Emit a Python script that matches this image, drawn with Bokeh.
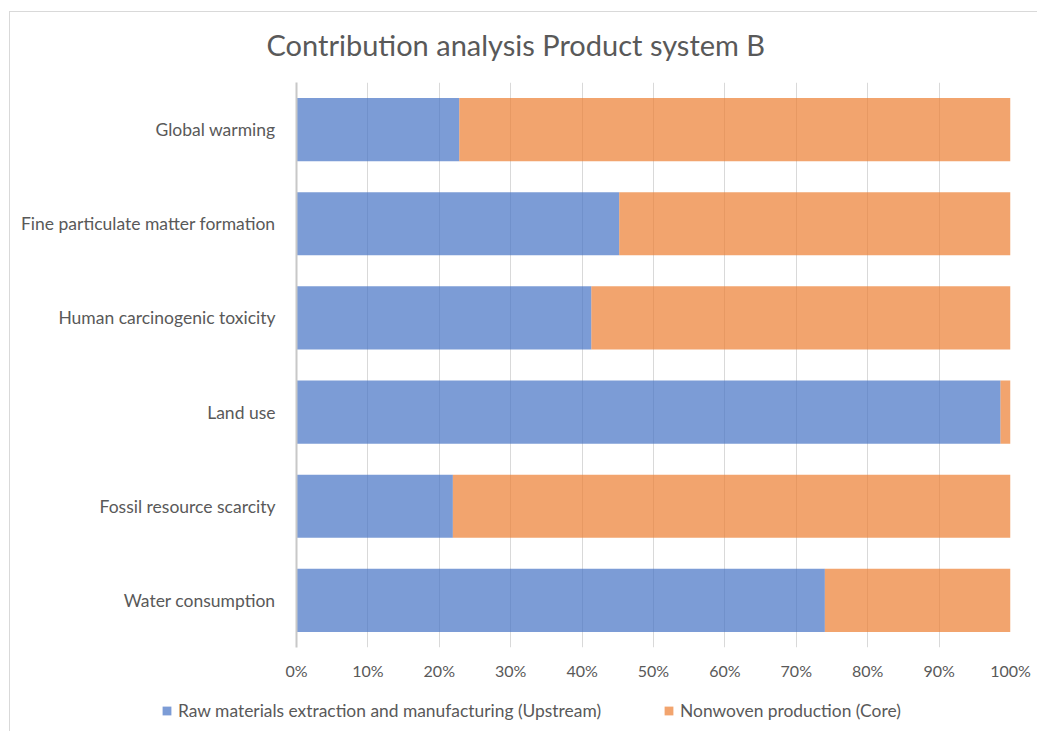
from bokeh.plotting import figure
from bokeh.layouts import column
from bokeh.models import (FactorRange, Range1d, FixedTicker, NumeralTickFormatter,
                          Legend, LegendItem, ColumnDataSource, Label)
from bokeh.embed import file_html
from bokeh.resources import INLINE

categories = ["Global warming", "Fine particulate matter formation",
              "Human carcinogenic toxicity", "Land use",
              "Fossil resource scarcity", "Water consumption"]
upstream = [0.228, 0.452, 0.413, 0.986, 0.219, 0.740]
core = [0.772, 0.548, 0.587, 0.014, 0.781, 0.260]
series_names = ["Raw materials extraction and manufacturing (Upstream)",
                "Nonwoven production (Core)"]
series_colors = ["#4472C4", "#ED7D31"]
x_ticks = [0.0, 0.1, 0.2, 0.3, 0.4, 0.5, 0.6, 0.7, 0.8, 0.9, 1.0]
title_text = "Contribution analysis Product system B"

FONT = "Lato"
TXT = "#595959"
W = 1027


def strip(height):
    f = figure(width=W, height=height, output_backend="svg", toolbar_location=None,
               x_range=Range1d(0, 1), y_range=Range1d(0, 1),
               x_axis_type=None, y_axis_type=None,
               min_border=0, min_border_left=0, min_border_right=0,
               min_border_top=0, min_border_bottom=0)
    f.grid.visible = False
    f.outline_line_color = None
    f.frame_align = False
    return f


# title strip
top = strip(70)
top.add_layout(Label(x=0.492, y=0.54, text=title_text, text_align="center",
                     text_baseline="middle", text_font=FONT, text_font_size="29px",
                     text_color=TXT))

# main chart
source = ColumnDataSource(dict(cat=categories, up=upstream, core=core))

p = figure(width=W, height=609, output_backend="svg", toolbar_location=None,
           y_range=FactorRange(*list(reversed(categories))),
           x_range=Range1d(0, 1),
           min_border_left=286, min_border_right=27, min_border_top=0,
           min_border_bottom=44)
p.outline_line_color = None

r = p.hbar_stack(["up", "core"], y="cat", height=0.67, source=source,
                 color=series_colors, fill_alpha=0.7, line_alpha=0.0)

p.xaxis.ticker = FixedTicker(ticks=x_ticks)
p.xaxis.formatter = NumeralTickFormatter(format="0%")
p.xaxis.axis_line_color = None
p.xaxis.major_tick_line_color = None
p.xaxis.minor_tick_line_color = None
p.xaxis.major_tick_out = 0
p.xaxis.major_label_standoff = 13
p.xaxis.major_label_text_font = FONT
p.xaxis.major_label_text_font_size = "16px"
p.xaxis.major_label_text_color = TXT

p.yaxis.axis_line_color = "#c8c8c8"
p.yaxis.axis_line_width = 2
p.yaxis.major_tick_line_color = None
p.yaxis.major_tick_out = 0
p.yaxis.major_label_standoff = 21
p.yaxis.major_label_text_font = FONT
p.yaxis.major_label_text_font_size = "17.5px"
p.yaxis.major_label_text_color = TXT

p.xgrid.grid_line_color = "#d9d9d9"
p.ygrid.grid_line_color = None

# legend strip below the chart
lg = strip(40)
lr = [lg.hbar(y=[-5], left=[-5], right=[-4], height=0.5, color=c,
              fill_alpha=0.7, line_alpha=0.0)
      for c in series_colors]
legend = Legend(items=[LegendItem(label=n, renderers=[rr]) for n, rr in zip(series_names, lr)],
                orientation="horizontal", location=(151, 10),
                padding=0, margin=0, spacing=62, label_standoff=6,
                glyph_width=11, glyph_height=11,
                border_line_color=None, background_fill_alpha=0,
                label_text_font=FONT, label_text_font_size="17.4px",
                label_text_color=TXT)
lg.add_layout(legend)

layout = column(top, p, lg, spacing=0, margin=(11, 0, 0, 9),
                styles={"border-left": "1px solid #d9d9d9", "border-top": "1px solid #d9d9d9"})

open("out.html", "w").write(file_html(layout, INLINE))
